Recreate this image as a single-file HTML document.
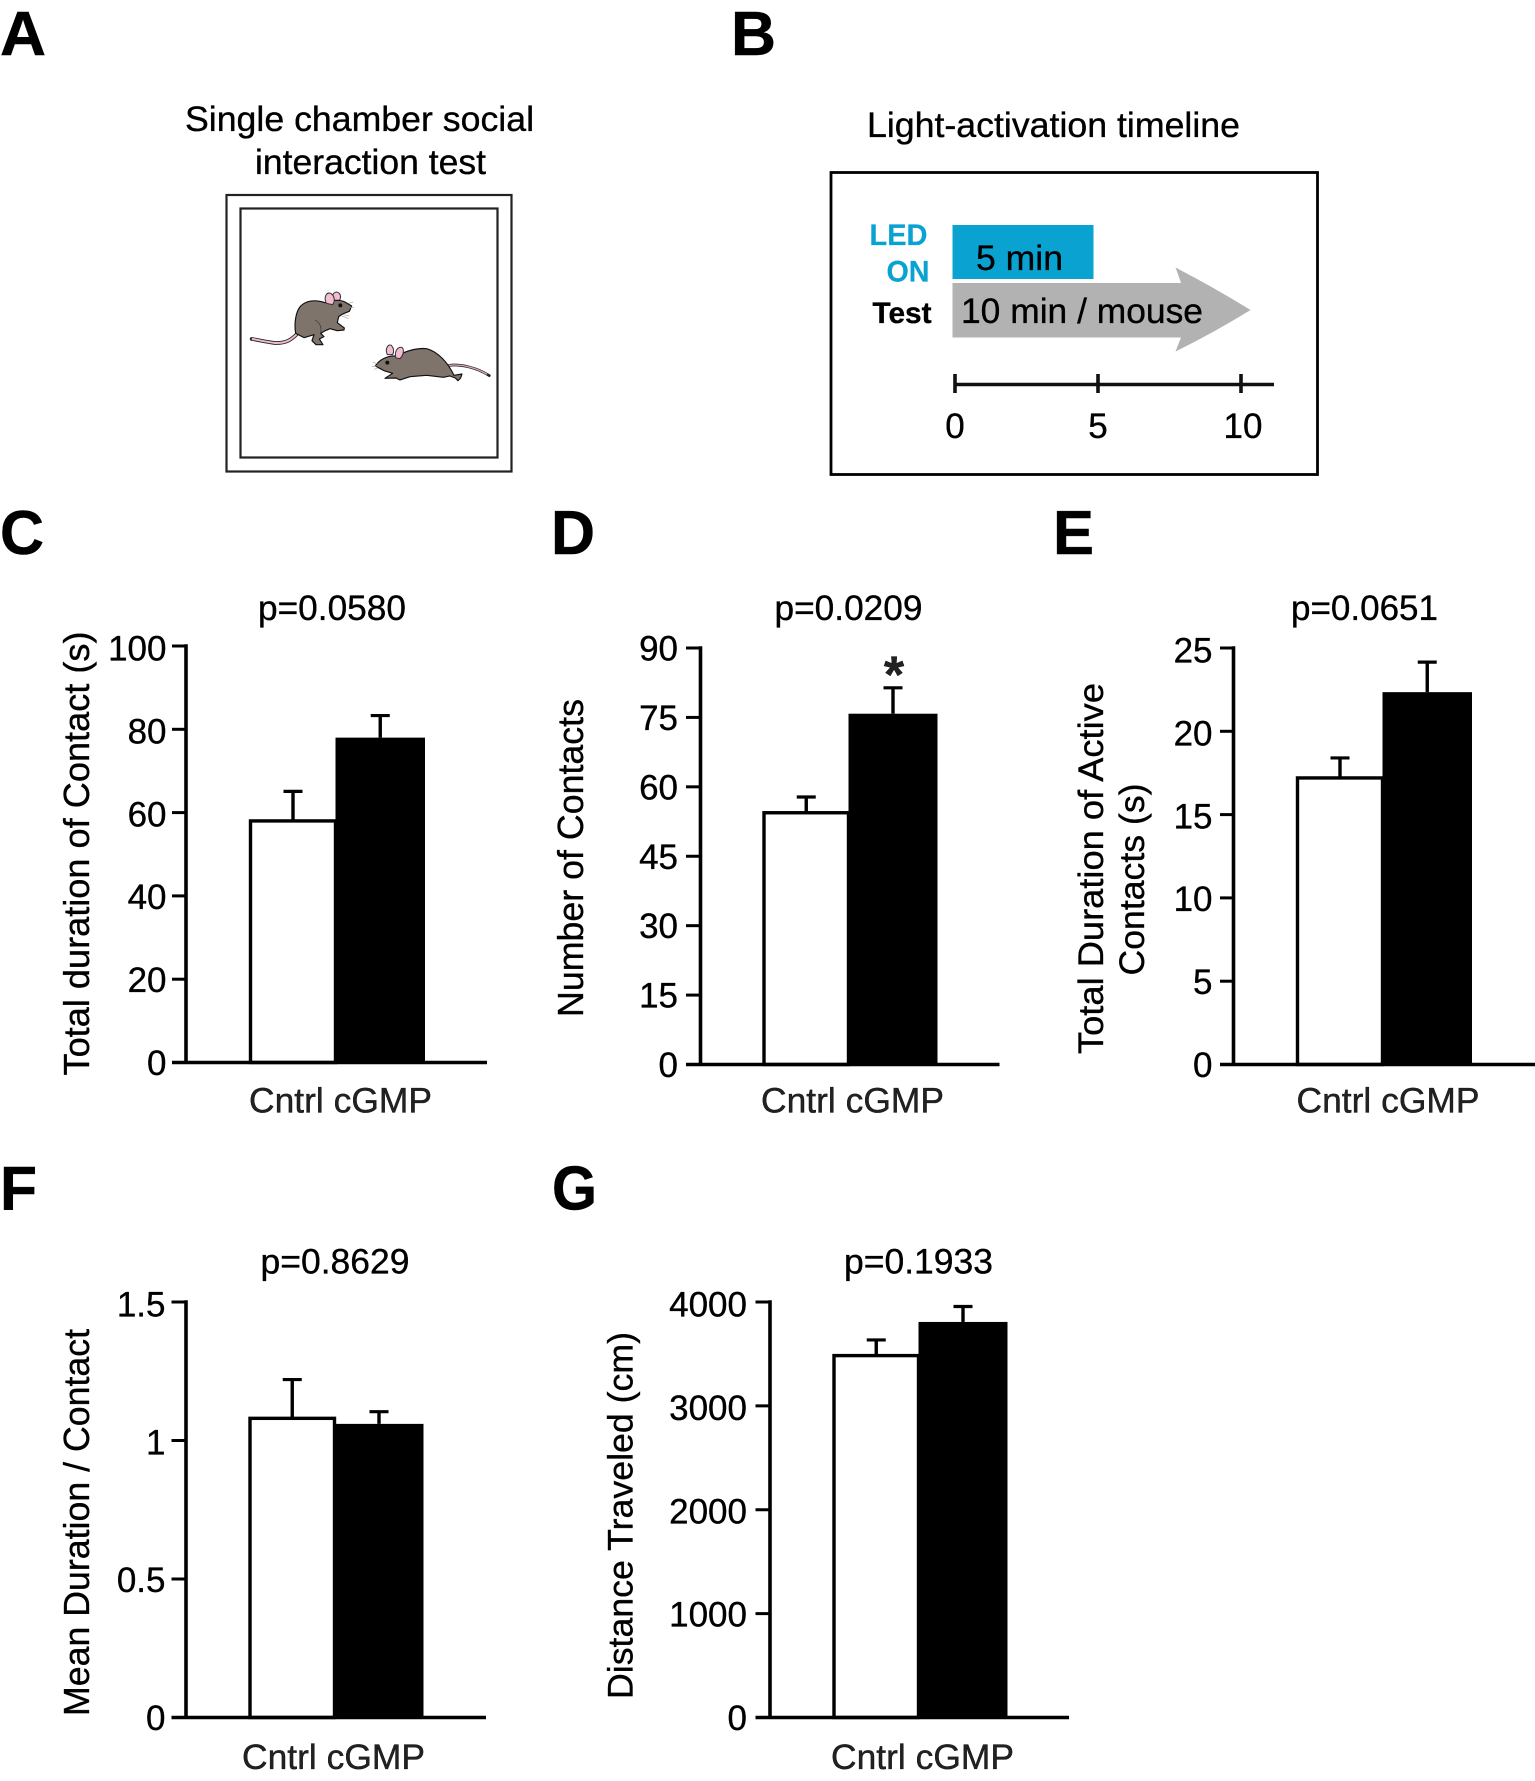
<!DOCTYPE html>
<html lang="en">
<head>
<meta charset="utf-8">
<title>Single chamber social interaction figure</title>
<style>
html,body{margin:0;padding:0;background:#fff;}
svg{display:block;font-family:"Liberation Sans",Arial,sans-serif;}
text{stroke:#000;stroke-width:.35px;}
.letter{font-weight:700;font-size:62px;fill:#000;stroke-width:.5px;}
.cyan{fill:#0aa3d1;stroke:#0aa3d1;stroke-width:.2px;}
</style>
</head>
<body>
<svg id="figure" xmlns="http://www.w3.org/2000/svg" width="1535" height="1781" viewBox="0 0 1535 1781">
<rect x="0" y="0" width="1535" height="1781" fill="#fff"/>

<!-- Panel A -->
<g>
  <text class="letter" x="0" y="55" textLength="46" lengthAdjust="spacingAndGlyphs">A</text>
  <text x="185" y="131" font-size="35" textLength="349" lengthAdjust="spacingAndGlyphs">Single chamber social</text>
  <text x="255" y="174" font-size="35" textLength="231" lengthAdjust="spacingAndGlyphs">interaction test</text>
  <rect x="226.5" y="195" width="285" height="276.5" fill="#fff" stroke="#222" stroke-width="2.2"/>
  <rect x="240.5" y="208.5" width="257" height="249" fill="#fff" stroke="#222" stroke-width="2.2"/>
  <g transform="translate(230,270) scale(0.3333)">
    <path d="M200,193 C185,208 170,220 135,219 C110,216 85,210 65,207" fill="none" stroke="#222" stroke-width="11" stroke-linecap="round"/>
    <path d="M200,193 C185,208 170,220 135,219 C110,216 85,210 68,207" fill="none" stroke="#f2b8d0" stroke-width="6" stroke-linecap="round"/>
    <path d="M308,90 C304,72 316,60 328,70 C334,78 332,88 326,94 Z" fill="#f3bdd3" stroke="#333" stroke-width="3"/>
    <path d="M197,190 C192,160 197,125 212,108 C228,92 255,88 285,98 C300,90 330,88 345,96 L365,108 L358,124 L340,131 L326,140 L322,158 L343,174 L342,180 L322,182 L300,176 L286,182 L272,190 L282,200 L268,207 L279,224 L258,224 L246,212 L252,194 L222,203 Z" fill="#7f746c" stroke="#111" stroke-width="3.5" stroke-linejoin="round"/>
    <path d="M289,100 C280,80 290,66 302,70 C314,78 316,92 308,104 Z" fill="#f3bdd3" stroke="#333" stroke-width="3"/>
    <path d="M255,150 C268,158 276,168 272,188" fill="none" stroke="#333" stroke-width="2"/>
    <circle cx="331" cy="106" r="6" fill="#111"/>
    <path d="M356,100 L370,96 M360,112 L372,112 M336,138 L356,146 M340,134 L358,138" fill="none" stroke="#aaa" stroke-width="2"/>
  </g>
  <g transform="translate(230,270) scale(0.3333)">
    <path d="M658,286 C690,282 740,292 778,317" fill="none" stroke="#222" stroke-width="8" stroke-linecap="round"/>
    <path d="M658,286 C690,282 735,292 770,312" fill="none" stroke="#dba7be" stroke-width="4" stroke-linecap="round"/>
    <path d="M436,288 C448,270 470,256 500,258 C525,245 555,233 590,236 C625,245 655,280 672,316 L696,312 L692,324 L684,332 L676,324 L660,318 L640,322 L590,316 L540,320 L510,330 L498,324 L465,325 L488,310 L462,302 Z" fill="#7f746c" stroke="#111" stroke-width="3.5" stroke-linejoin="round"/>
    <path d="M472,254 C464,236 474,222 484,226 C493,236 492,246 488,254 Z" fill="#f3bdd3" stroke="#333" stroke-width="3"/>
    <path d="M498,264 C492,246 502,230 516,232 C525,242 518,258 510,266 Z" fill="#f3bdd3" stroke="#333" stroke-width="3"/>
    <circle cx="472" cy="278" r="6" fill="#111"/>
    <path d="M442,282 L428,276 M440,288 L426,290 M444,294 L432,298" fill="none" stroke="#aaa" stroke-width="2"/>
  </g>
</g>

<!-- Panel B -->
<g>
  <text class="letter" x="731" y="55" textLength="45" lengthAdjust="spacingAndGlyphs">B</text>
  <text x="867" y="137" font-size="35" textLength="373" lengthAdjust="spacingAndGlyphs">Light-activation timeline</text>
  <rect x="831" y="172.5" width="486.5" height="302" fill="#fff" stroke="#000" stroke-width="2.8"/>
  <rect x="952.5" y="225" width="141" height="54" fill="#0aa3d1"/>
  <path d="M952.5,283 L1181,283 Q1178,274 1175.5,267.5 Q1215,288 1250.5,310 Q1215,332 1175.5,351.5 Q1178,345 1181,337.5 L952.5,337.5 Z" fill="#b2b2b2"/>
  <text class="cyan" x="869.5" y="245" font-size="30" font-weight="700" textLength="58" lengthAdjust="spacingAndGlyphs">LED</text>
  <text class="cyan" x="886.5" y="281.5" font-size="30" font-weight="700" textLength="43" lengthAdjust="spacingAndGlyphs">ON</text>
  <text x="872.5" y="323" font-size="30" font-weight="700" fill="#000" textLength="59" lengthAdjust="spacingAndGlyphs">Test</text>
  <text x="976" y="270" font-size="35" fill="#000" textLength="87" lengthAdjust="spacingAndGlyphs">5 min</text>
  <text x="961" y="323" font-size="35" fill="#000" textLength="242" lengthAdjust="spacingAndGlyphs">10 min / mouse</text>
  <g id="timeline-axis"></g>
</g>

<!-- Panel C -->
<g id="panel-c">
  <text class="letter" x="0" y="554" textLength="44" lengthAdjust="spacingAndGlyphs">C</text>
  <text x="258" y="620" font-size="35" textLength="148" lengthAdjust="spacingAndGlyphs">p=0.0580</text>
  <text transform="translate(89,1075.5) rotate(-90)" font-size="36" textLength="444" lengthAdjust="spacingAndGlyphs">Total duration of Contact (s)</text>
</g>

<!-- Panel D -->
<g id="panel-d">
  <text class="letter" x="551" y="554" textLength="44" lengthAdjust="spacingAndGlyphs">D</text>
  <text x="774.5" y="620" font-size="35" textLength="148" lengthAdjust="spacingAndGlyphs">p=0.0209</text>
  <text transform="translate(583,1017) rotate(-90)" font-size="36" textLength="318" lengthAdjust="spacingAndGlyphs">Number of Contacts</text>
  <text x="894" y="692.5" font-size="52" font-weight="700" fill="#222" text-anchor="middle">*</text>
</g>

<!-- Panel E -->
<g id="panel-e">
  <text class="letter" x="1053" y="554" textLength="41" lengthAdjust="spacingAndGlyphs">E</text>
  <text x="1291" y="620" font-size="35" textLength="147" lengthAdjust="spacingAndGlyphs">p=0.0651</text>
  <text transform="translate(1103,1054) rotate(-90)" font-size="35" textLength="371" lengthAdjust="spacingAndGlyphs">Total Duration of Active</text>
  <text transform="translate(1144,975.5) rotate(-90)" font-size="35" textLength="192" lengthAdjust="spacingAndGlyphs">Contacts (s)</text>
</g>

<!-- Panel F -->
<g id="panel-f">
  <text class="letter" x="0" y="1209.5" textLength="37" lengthAdjust="spacingAndGlyphs">F</text>
  <text x="260.5" y="1273.5" font-size="35" textLength="149" lengthAdjust="spacingAndGlyphs">p=0.8629</text>
  <text transform="translate(89,1716) rotate(-90)" font-size="36" textLength="387" lengthAdjust="spacingAndGlyphs">Mean Duration / Contact</text>
</g>

<!-- Panel G -->
<g id="panel-g">
  <text class="letter" x="552" y="1209.5" textLength="45" lengthAdjust="spacingAndGlyphs">G</text>
  <text x="844" y="1273.5" font-size="35" textLength="149" lengthAdjust="spacingAndGlyphs">p=0.1933</text>
  <text transform="translate(632.5,1699) rotate(-90)" font-size="35" textLength="367" lengthAdjust="spacingAndGlyphs">Distance Traveled (cm)</text>
</g>
</svg>

<script>
// Chart data
const categories = ["Cntrl", "cGMP"];

const panelCTicks = [0, 20, 40, 60, 80, 100];
const panelCTickLabels = ["0", "20", "40", "60", "80", "100"];
const panelCMeans = [58, 78];
const panelCErrors = [7.1, 5.3];

const panelDTicks = [0, 15, 30, 45, 60, 75, 90];
const panelDTickLabels = ["0", "15", "30", "45", "60", "75", "90"];
const panelDMeans = [54.4, 75.8];
const panelDErrors = [3.4, 5.6];

const panelETicks = [0, 5, 10, 15, 20, 25];
const panelETickLabels = ["0", "5", "10", "15", "20", "25"];
const panelEMeans = [17.2, 22.35];
const panelEErrors = [1.2, 1.8];

const panelFTicks = [0, 0.5, 1, 1.5];
const panelFTickLabels = ["0", "0.5", "1", "1.5"];
const panelFMeans = [1.08, 1.06];
const panelFErrors = [0.14, 0.044];

const panelGTicks = [0, 1000, 2000, 3000, 4000];
const panelGTickLabels = ["0", "1000", "2000", "3000", "4000"];
const panelGMeans = [3484, 3808];
const panelGErrors = [151, 149];

const timelineTicks = [0, 5, 10];
const timelineTickLabels = ["0", "5", "10"];

const SVG_NS = "http://www.w3.org/2000/svg";

function shape(parent, tag, props) {
  const el = document.createElementNS(SVG_NS, tag);
  for (const key in props) el.setAttribute(key, props[key]);
  parent.appendChild(el);
  return el;
}

function drawPanel(parentId, frame, ticks, tickLabels, means, errors) {
  const parent = document.getElementById(parentId);
  const maxTick = ticks[ticks.length - 1];
  const y = function (v) { return frame.baseline - (v / maxTick) * (frame.baseline - frame.top); };
  const edges = [frame.left, frame.mid, frame.right];
  const xCenter = function (i) { return (edges[i] + edges[i + 1]) / 2; };

  means.forEach(function (mean, i) {
    const top = y(mean + errors[i]);
    const stem = shape(parent, "line", {x1: xCenter(i), x2: xCenter(i), y1: y(mean), y2: top, stroke: "#000", "stroke-width": 3.4});
    
    
    const cap = shape(parent, "line", {x1: xCenter(i) - 9.5, x2: xCenter(i) + 9.5, y1: top, y2: top, stroke: "#000", "stroke-width": 3.2});
    
    
  });

  means.forEach(function (mean, i) {
    const bar = shape(parent, "rect", {
      x: edges[i], y: y(mean), width: edges[i + 1] - edges[i], height: frame.baseline - y(mean),
      fill: i === 0 ? "#fff" : "#000", stroke: "#000", "stroke-width": i === 0 ? 3.4 : 0
    });
    
    
  });

  const yAxis = shape(parent, "line", {x1: frame.axis, x2: frame.axis, y1: frame.top - 1.7, y2: frame.baseline, stroke: "#000", "stroke-width": 3.6});
  
  
  const xAxis = shape(parent, "line", {x1: frame.tickLeft, x2: frame.xEnd, y1: frame.baseline, y2: frame.baseline, stroke: "#000", "stroke-width": 3.6});
  
  

  ticks.forEach(function (t, i) {
    const tick = shape(parent, "line", {x1: frame.tickLeft, x2: frame.axis, y1: y(t), y2: y(t), stroke: "#000", "stroke-width": 3});
    
    
    const label = shape(parent, "text", {x: frame.labelRight, y: y(t) + 12.5 + frame.labelDrop * (i / (ticks.length - 1)), "font-size": 35, "text-anchor": "end", fill: "#000"});
    
    
    label.textContent = tickLabels[i];
  });

  const xLabel = shape(parent, "text", {x: frame.xLabelX, y: frame.xLabelY, "font-size": 35, fill: "#222", textLength: frame.xLabelW, lengthAdjust: "spacingAndGlyphs"});
  
  
  xLabel.textContent = categories.join(" ");
}

drawPanel("panel-c", {axis: 186, tickLeft: 172, xEnd: 487, top: 646, baseline: 1062.5, left: 250.5, mid: 335.5, right: 425, labelRight: 166.5, labelDrop: 2, xLabelX: 249, xLabelY: 1112.5, xLabelW: 183}, panelCTicks, panelCTickLabels, panelCMeans, panelCErrors);
drawPanel("panel-d", {axis: 700.5, tickLeft: 686, xEnd: 999.5, top: 648, baseline: 1064.5, left: 764, mid: 848.5, right: 937.5, labelRight: 678, labelDrop: 0, xLabelX: 761, xLabelY: 1112.5, xLabelW: 183}, panelDTicks, panelDTickLabels, panelDMeans, panelDErrors);
drawPanel("panel-e", {axis: 1233.5, tickLeft: 1220, xEnd: 1535, top: 648, baseline: 1064.5, left: 1297.5, mid: 1382.5, right: 1472, labelRight: 1212.5, labelDrop: 2, xLabelX: 1296.5, xLabelY: 1112.5, xLabelW: 183}, panelETicks, panelETickLabels, panelEMeans, panelEErrors);
drawPanel("panel-f", {axis: 186, tickLeft: 171.5, xEnd: 486, top: 1302, baseline: 1717.5, left: 250, mid: 334.5, right: 423.5, labelRight: 165.5, labelDrop: 2, xLabelX: 242, xLabelY: 1769, xLabelW: 183}, panelFTicks, panelFTickLabels, panelFMeans, panelFErrors);
drawPanel("panel-g", {axis: 770, tickLeft: 755.5, xEnd: 1069, top: 1302, baseline: 1717.5, left: 834, mid: 918.5, right: 1007.5, labelRight: 747, labelDrop: 2, xLabelX: 831, xLabelY: 1769, xLabelW: 183}, panelGTicks, panelGTickLabels, panelGMeans, panelGErrors);

(function drawTimeline() {
  const parent = document.getElementById("timeline-axis");
  const x = function (v) { return 955 + (v / 10) * 286; };
  const axisLine = shape(parent, "line", {x1: x(0), x2: 1274, y1: 384.5, y2: 384.5, stroke: "#111", "stroke-width": 3.6});
  
  
  timelineTicks.forEach(function (t, i) {
    const tick = shape(parent, "line", {x1: x(t), x2: x(t), y1: 374, y2: 393, stroke: "#111", "stroke-width": 3.6});
    
    
    const label = shape(parent, "text", {x: x(t) + (t === 10 ? 2 : 0), y: 438, "font-size": 35, "text-anchor": "middle", fill: "#000"});
    
    
    label.textContent = timelineTickLabels[i];
  });
})();
</script>
</body>
</html>
